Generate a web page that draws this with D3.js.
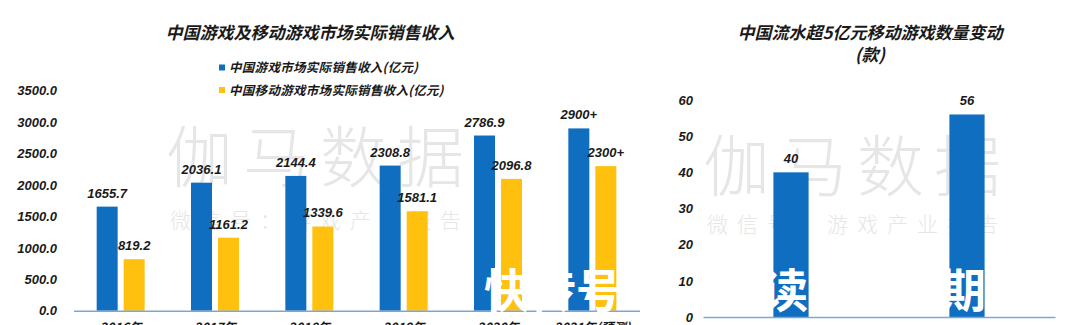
<!DOCTYPE html>
<html>
<head>
<meta charset="utf-8">
<script src="https://cdn.jsdelivr.net/npm/d3@7"></script>
<style>
  html, body { margin: 0; padding: 0; background: #fff; overflow: hidden; }
  svg { display: block; }
  .cjk { font-family: "Noto Sans CJK SC", "Noto Sans", sans-serif; }
  .num { font-family: "Liberation Sans", Arial, sans-serif; font-style: italic; font-weight: bold; }
</style>
</head>
<body>
<svg id="chart" width="1080" height="325"></svg>
<script>
// ---- Left panel: game / mobile game revenue (亿元) ----
const revenueYears = ["2016年", "2017年", "2018年", "2019年", "2020年", "2021年(预测)"];
const gameRevenue = [1655.7, 2036.1, 2144.4, 2308.8, 2786.9, 2900];
const mobileRevenue = [819.2, 1161.2, 1339.6, 1581.1, 2096.8, 2300];
const gameRevenueLabels = ["1655.7", "2036.1", "2144.4", "2308.8", "2786.9", "2900+"];
const mobileRevenueLabels = ["819.2", "1161.2", "1339.6", "1581.1", "2096.8", "2300+"];
const revenueTicks = [0, 500, 1000, 1500, 2000, 2500, 3000, 3500];
const revenueSeries = ["中国游戏市场实际销售收入(亿元)", "中国移动游戏市场实际销售收入(亿元)"];

// ---- Right panel: mobile games with revenue above 5亿元 (款) ----
const countYears = ["2020年", "2021年"];
const gameCounts = [40, 56];
const countTicks = [0, 10, 20, 30, 40, 50, 60];

const BLUE = "#0f6ec0";
const YELLOW = "#ffc10e";
const AXIS = "#7ea7cf";
const INK = "#1a1a1a";
const MARK = "#e6e6e6";

const svg = d3.select("#chart");

// Watermark layer drawn under the bars
function watermark(cx, cyBig, cySmall) {
  svg.append("text").attr("class", "cjk")
    .attr("x", cx).attr("y", cyBig).attr("dy", "0.36em")
    .attr("text-anchor", "middle")
    .attr("font-size", 67).attr("font-weight", 300)
    .attr("letter-spacing", 10)
    .attr("fill", MARK)
    .text("伽马数据");
  svg.append("text").attr("class", "cjk")
    .attr("x", cx).attr("y", cySmall).attr("dy", "0.36em")
    .attr("text-anchor", "middle")
    .attr("font-size", 21).attr("font-weight", 300)
    .attr("letter-spacing", 9)
    .attr("fill", MARK)
    .text("微信号：游戏产业报告");
}
watermark(320, 158, 220);
watermark(857, 167, 224);

// ================= Left panel =================
const xL = d3.scaleBand().domain(revenueYears).range([73.5, 639.5]);
const xSub = d3.scaleBand().domain(["game", "mobile"])
  .range([0, xL.bandwidth()]).paddingInner(0.222).paddingOuter(0.858);
const yL = d3.scaleLinear().domain([0, 3500]).range([310.7, 90.7]);

svg.append("text").attr("class", "cjk")
  .attr("x", 310).attr("y", 33).attr("dy", "0.36em")
  .attr("text-anchor", "middle")
  .attr("font-size", 17).attr("font-weight", "bold").attr("font-style", "italic")
  .attr("fill", INK)
  .text("中国游戏及移动游戏市场实际销售收入");

// legend
const legend = svg.append("g");
revenueSeries.forEach((name, i) => {
  const yy = 67.5 + i * 22.5;
  legend.append("rect").attr("x", 219).attr("y", yy - 3).attr("width", 6).attr("height", 6)
    .attr("fill", i === 0 ? BLUE : YELLOW);
  legend.append("text").attr("class", "cjk")
    .attr("x", 229).attr("y", yy).attr("dy", "0.36em")
    .attr("font-size", 12.5).attr("font-weight", "bold").attr("font-style", "italic")
    .attr("letter-spacing", 0.3)
    .attr("fill", INK).text(name);
});

// y axis labels
const yAxisL = d3.axisLeft(yL).tickValues(revenueTicks).tickFormat(d3.format(".1f")).tickSize(0).tickPadding(0);
svg.append("g").attr("transform", "translate(57,0)").call(yAxisL)
  .call(g => g.select(".domain").remove())
  .call(g => g.selectAll("text").attr("class", "num").attr("font-size", 13).attr("fill", INK));

// bars
const groups = svg.append("g").selectAll("g").data(revenueYears).join("g")
  .attr("transform", d => `translate(${xL(d)},0)`);
groups.append("rect")
  .attr("x", xSub("game")).attr("width", xSub.bandwidth())
  .attr("y", (d, i) => yL(gameRevenue[i]))
  .attr("height", (d, i) => yL(0) - yL(gameRevenue[i]))
  .attr("fill", BLUE);
groups.append("rect")
  .attr("x", xSub("mobile")).attr("width", xSub.bandwidth())
  .attr("y", (d, i) => yL(mobileRevenue[i]))
  .attr("height", (d, i) => yL(0) - yL(mobileRevenue[i]))
  .attr("fill", YELLOW);
groups.append("text").attr("class", "num")
  .attr("x", xSub("game") + xSub.bandwidth() / 2)
  .attr("y", (d, i) => yL(gameRevenue[i]) - 9)
  .attr("text-anchor", "middle").attr("font-size", 13).attr("fill", INK)
  .text((d, i) => gameRevenueLabels[i]);
groups.append("text").attr("class", "num")
  .attr("x", xSub("mobile") + xSub.bandwidth() / 2)
  .attr("y", (d, i) => yL(mobileRevenue[i]) - 9)
  .attr("text-anchor", "middle").attr("font-size", 13).attr("fill", INK)
  .text((d, i) => mobileRevenueLabels[i]);

// x axis
const xAxisL = d3.axisBottom(xL).tickSize(0).tickPadding(12);
svg.append("g").attr("transform", `translate(0,${yL(0)})`).call(xAxisL)
  .call(g => g.select(".domain").attr("stroke", AXIS).attr("stroke-width", 1.5))
  .call(g => g.selectAll("text").attr("class", "cjk").attr("font-size", 12.5)
    .attr("font-weight", "bold").attr("font-style", "italic").attr("fill", INK));

// ================= Right panel =================
const xR = d3.scaleBand().domain(countYears).range([703, 1055]).paddingInner(0.8).paddingOuter(0.4);
const yR = d3.scaleLinear().domain([0, 60]).range([317, 100]);

const titleR = svg.append("text").attr("class", "cjk")
  .attr("text-anchor", "middle")
  .attr("font-size", 17).attr("font-weight", "bold").attr("font-style", "italic")
  .attr("fill", INK);
titleR.append("tspan").attr("x", 870).attr("y", 33).attr("dy", "0.36em").text("中国流水超5亿元移动游戏数量变动");
titleR.append("tspan").attr("x", 870).attr("y", 55).attr("dy", "0.36em").text("(款)");

const yAxisR = d3.axisLeft(yR).tickValues(countTicks).tickSize(0).tickPadding(0);
svg.append("g").attr("transform", "translate(693,0)").call(yAxisR)
  .call(g => g.select(".domain").remove())
  .call(g => g.selectAll("text").attr("class", "num").attr("font-size", 13).attr("fill", INK));

svg.append("g").selectAll("rect").data(countYears).join("rect")
  .attr("x", d => xR(d)).attr("width", xR.bandwidth())
  .attr("y", (d, i) => yR(gameCounts[i]))
  .attr("height", (d, i) => yR(0) - yR(gameCounts[i]))
  .attr("fill", BLUE);
svg.append("g").selectAll("text").data(countYears).join("text")
  .attr("class", "num").attr("font-weight", "normal")
  .attr("x", d => xR(d) + xR.bandwidth() / 2)
  .attr("y", (d, i) => yR(gameCounts[i]) - 9)
  .attr("text-anchor", "middle").attr("font-size", 13).attr("fill", INK)
  .text((d, i) => gameCounts[i]);

const xAxisR = d3.axisBottom(xR).tickSize(0).tickPadding(12);
svg.append("g").attr("transform", `translate(0,${yR(0)})`).call(xAxisR)
  .call(g => g.select(".domain").attr("stroke", AXIS).attr("stroke-width", 1.5))
  .call(g => g.selectAll("text").attr("class", "cjk").attr("font-size", 12.5)
    .attr("font-weight", "bold").attr("font-style", "italic").attr("fill", INK));

// Publishing-platform stamp in white across the lower part
const stamp = svg.append("g").attr("class", "cjk")
  .attr("font-size", 46).attr("font-weight", "bold").attr("fill", "#fff");
stamp.append("text").attr("x", 484).attr("y", 307).text("快传号");
stamp.append("text").attr("x", 762).attr("y", 307).text("读");
stamp.append("text").attr("x", 940).attr("y", 307).text("期");
</script>
</body>
</html>
